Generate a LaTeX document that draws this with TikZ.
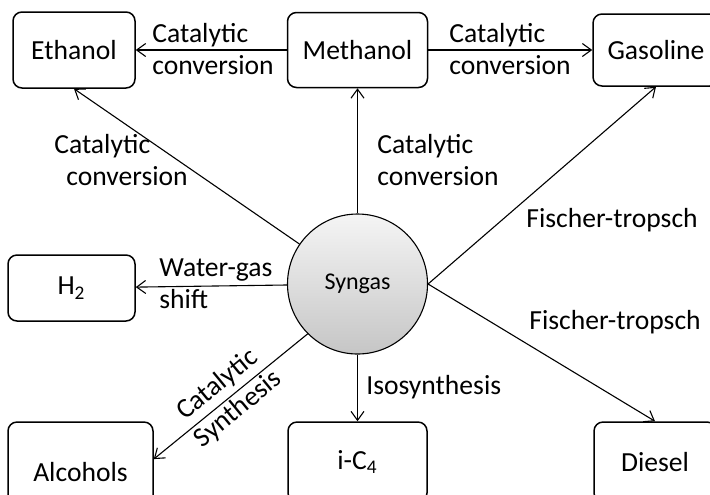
\documentclass[tikz,border=0pt]{standalone}
\usepackage{fontspec}
\setmainfont{Carlito}
\usetikzlibrary{arrows.meta}
\tikzset{
  prod/.style={draw, line width=0.75pt, rounded corners=4.5pt, inner sep=0pt,
    font=\fontsize{13.8}{16}\selectfont},
  proc/.style={inner sep=0pt, align=left, font=\fontsize{13.8}{16}\selectfont},
  conv/.style={line width=0.55pt, -{Straight Barb[length=4.5pt,width=6.5pt]}}
}
\begin{document}
\begin{tikzpicture}[x=0.5pt,y=-0.5pt]
         \clip (0,0) rectangle (710,494);
         %syngas
         \node[circle, draw, line width=0.55pt, top color=gray!8, bottom color=gray!45,
           minimum size=70pt, inner sep=0pt, font=\fontsize{12}{14}\selectfont] (syn) at (357.5,284) {Syngas};
         %prodotti
         \node[prod, minimum width=61pt, minimum height=38pt] (eth) at (74,50) {Ethanol};
         \node[prod, minimum width=70pt, minimum height=37.5pt] (meth) at (357.5,50) {Methanol};
         \node[prod, minimum width=63pt, minimum height=36pt] (gas) at (656,50) {Gasoline};
         \node[prod, minimum width=63.5pt, minimum height=33pt] (htwo) at (71.5,288) {H\textsubscript{2}};
         \node[prod, minimum width=72.5pt, minimum height=50pt] (alc) at (80.5,472) {Alcohols};
         \node[prod, minimum width=69.5pt, minimum height=40pt] (ico) at (357.5,462) {i-C\textsubscript{4}};
         \node[prod, minimum width=61pt, minimum height=40pt] (dies) at (655,462) {Diesel};
         %frecce
         \draw[conv] (meth) -- (eth);
         \draw[conv] (meth) -- (gas);
         \draw[conv] (syn) -- (eth.south);
         \draw[conv] (syn) -- (meth);
         \draw[conv] (syn.east) -- (gas.south);
         \draw[conv] (syn.east) -- (dies.north);
         \draw[conv] (syn) -- (htwo);
         \draw[conv] (syn.south west) -- (alc.10);
         \draw[conv] (syn) -- (ico);
         %processi
         \node[proc, anchor=west] (lmethe) at (152,49) {Catalytic\\conversion};
         \node[proc, anchor=west] (lmethg) at (449,49) {Catalytic\\conversion};
         \node[proc, anchor=west] (lsyne) at (54,160) {Catalytic\\\hspace*{6pt}conversion};
         \node[proc, anchor=west] (lsynm) at (377,160) {Catalytic\\conversion};
         \node[proc, anchor=west] (lsyng) at (526,220) {Fischer-tropsch};
         \node[proc, anchor=west] (lsynd) at (529,322) {Fischer-tropsch};
         \node[proc, anchor=west] (lsynh) at (159,284) {Water-gas\\shift};
         \node[proc, anchor=west] (lsyni) at (366,387) {Isosynthesis};
         \node[proc, align=center, rotate=39.5] (lsyna) at (228,397) {Catalytic\\Synthesis};
\end{tikzpicture}
\end{document}
